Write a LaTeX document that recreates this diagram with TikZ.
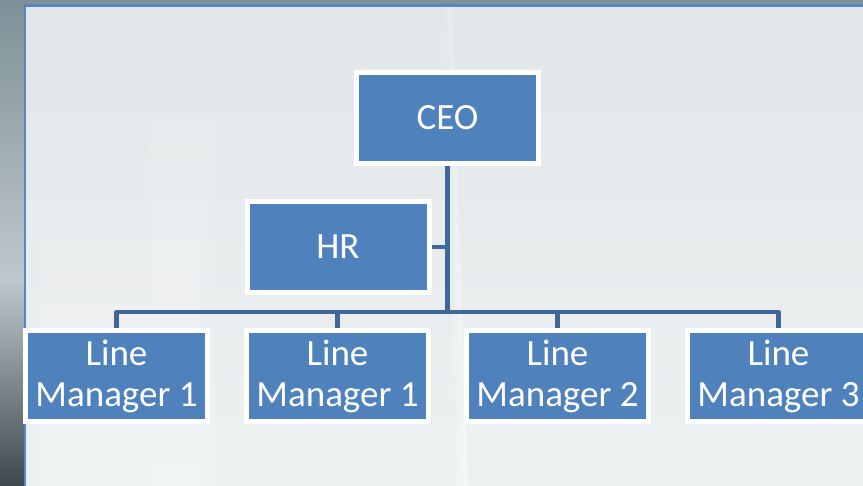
\documentclass[tikz,border=0pt]{standalone}
\usepackage{fontspec}
\setmainfont{Carlito}
\usetikzlibrary{calc}
\definecolor{boxblue}{HTML}{4F81BD}
\definecolor{linkblue}{HTML}{3F6898}
\definecolor{bgpale}{HTML}{E2E6E8}
\definecolor{bglight}{HTML}{EEF1F2}
\definecolor{stripdark}{HTML}{7E9098}
\definecolor{framblue}{HTML}{5A86C0}
\pgfdeclarelayer{bg}
\pgfdeclarelayer{links}
\pgfsetlayers{bg,links,main}
\tikzset{
  orgbox/.style={draw=white, line width=5pt, fill=boxblue, text=white,
    minimum width=182pt, minimum height=91pt, inner sep=0pt, align=center,
    font=\fontsize{37}{41}\selectfont},
  link/.style={draw=linkblue, line width=4.5pt, line join=round}
}
\begin{document}
\begin{tikzpicture}[x=1pt,y=-1pt]
\useasboundingbox (0,0) rectangle (863,486);
\begin{pgfonlayer}{bg}
  % background photo approximation
  \shade[top color=bgpale, bottom color=bglight] (0,0) rectangle (863,486);
  \fill[white, opacity=0.15] (40,240) rectangle (200,486);
  \fill[white, opacity=0.12] (150,120) rectangle (215,486);
  \shade[left color=bgpale, right color=white, opacity=0.5] (440,5) -- (452,5) -- (468,486) -- (456,486) -- cycle;
  \shade[top color=stripdark, bottom color=stripdark!50!white] (0,0) rectangle (24,280);
  \shade[top color=stripdark!50!white, bottom color=stripdark!50!black] (0,280) rectangle (24,486);
  \fill[stripdark] (0,0) rectangle (863,4.5);
  \draw[framblue, line width=2.5pt] (25,490) -- (25,5.5) -- (870,5.5);
\end{pgfonlayer}

\node[orgbox] (ceo) at (447.5,118) {CEO};
\node[orgbox] (hr)  at (338,247) {HR};
\node[orgbox] (m1) at (116.5,376) {Line\\Manager 1};
\node[orgbox] (m2) at (337.5,376) {Line\\Manager 1};
\node[orgbox] (m3) at (557.5,376) {Line\\Manager 2};
\node[orgbox] (m4) at (778.5,376) {Line\\Manager 3};
\coordinate (bus) at (447.5,312);

\begin{pgfonlayer}{links}
  \draw[link] (ceo.south) -- (bus);
  \draw[link] (hr.east) -- (hr.east -| ceo.south);
  \draw[link] (m1.north) -- (m1.north |- bus) -- (m4.north |- bus) -- (m4.north);
  \draw[link] (m2.north) -- (m2.north |- bus);
  \draw[link] (m3.north) -- (m3.north |- bus);
\end{pgfonlayer}
\end{tikzpicture}
\end{document}
